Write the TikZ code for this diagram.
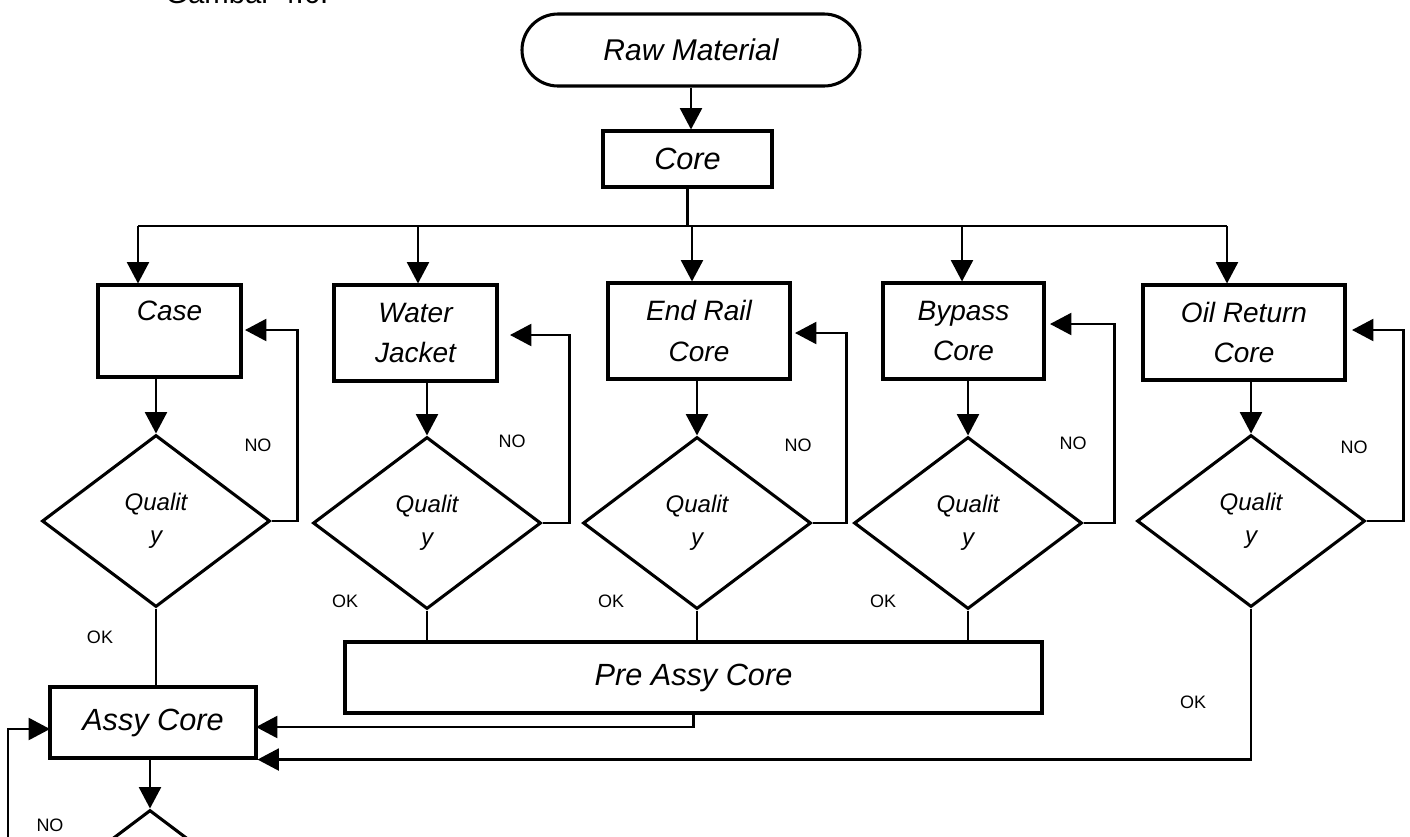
\documentclass[tikz,border=0pt]{standalone}
\usepackage{fontspec}
\setmainfont{Liberation Sans}
\usetikzlibrary{arrows.meta,shapes.geometric,shapes.misc}

\begin{document}
\begin{tikzpicture}[x=0.75pt,y=-0.75pt,
  sz/.style 2 args={minimum width=#1*0.75pt,minimum height=#2*0.75pt},
  box/.style={draw,rectangle,line width=2.3pt,inner sep=0pt,align=center,
              font=\itshape\fontsize{21}{30.5}\selectfont},
  bigbox/.style={box,font=\itshape\fontsize{23}{28}\selectfont},
  dec/.style={draw,diamond,line width=2.3pt,inner sep=0pt,align=center,
              minimum width=171pt,minimum height=129pt,
              font=\itshape\fontsize{18}{24.75}\selectfont},
  conn/.style={line width=1.6pt},
  arr/.style={conn,-{Triangle[length=16pt,width=16.5pt]}},
  lab/.style={inner sep=0pt,font=\fontsize{13.5}{16}\selectfont},
]
\useasboundingbox (0,0) rectangle (1410,836);
\clip (0,0) rectangle (1410,836);

% caption line above the chart
\node[anchor=base west,inner sep=0pt,font=\fontsize{22}{26}\selectfont] (caption) at (165,3) {Gambar 4.6.};

% start and core
\node[draw,rounded rectangle,line width=2.3pt,inner sep=0pt,sz={338}{72},
      font=\itshape\fontsize{22.5}{27}\selectfont] (raw) at (691,50) {Raw Material};
\node[bigbox,sz={169}{56}] (core) at (687.5,159) {Core};

% component boxes
\node[box,sz={143}{92}] (case) at (169.5,331) {Case\\\phantom{C}};
\node[box,sz={163}{96}] (wj)   at (415.5,333) {Water\\Jacket};
\node[box,sz={182}{96}] (erc)  at (699,331)   {End Rail\\Core};
\node[box,sz={161}{96}] (bpc)  at (963.5,331) {Bypass\\Core};
\node[box,sz={202}{95}] (orc)  at (1244,332.5) {Oil Return\\Core};

% quality checks
\node[dec] (d1) at (156,521)  {Qualit\\y};
\node[dec] (d2) at (427,523)  {Qualit\\y};
\node[dec] (d3) at (697,523)  {Qualit\\y};
\node[dec] (d4) at (968,523)  {Qualit\\y};
\node[dec] (d5) at (1251,521) {Qualit\\y};

% assembly
\node[bigbox,sz={697}{71}] (pre)  at (693.5,677.5) {Pre Assy Core};
\node[bigbox,sz={206}{71}] (assy) at (153,722.5)   {Assy Core};
\node[dec] (d6) at (150,896) {};

% distribution bus from Core
\coordinate (b1) at (138,226);
\coordinate (b2) at (418,226);
\coordinate (b3) at (692,226);
\coordinate (b4) at (962,226);
\coordinate (b5) at (1227,226);
\draw[arr] (raw.south) -- (raw.south |- core.north);
\draw[conn] (core.south) -- (core.south |- b1);
\draw[conn] (b1) -- (b5);
\draw[arr] (b1) -- (b1 |- case.north);
\draw[arr] (b2) -- (b2 |- wj.north);
\draw[arr] (b3) -- (b3 |- erc.north);
\draw[arr] (b4) -- (b4 |- bpc.north);
\draw[arr] (b5) -- (b5 |- orc.north);

% boxes into checks
\draw[arr] (d1.north |- case.south) -- (d1.north);
\draw[arr] (d2.north |- wj.south)   -- (d2.north);
\draw[arr] (d3.north |- erc.south)  -- (d3.north);
\draw[arr] (d4.north |- bpc.south)  -- (d4.north);
\draw[arr] (d5.north |- orc.south)  -- (d5.north);

% rework loops
\coordinate (n1) at (245,330);
\coordinate (n2) at (510,335);
\coordinate (n3) at (795,333);
\coordinate (n4) at (1050,324);
\coordinate (n5) at (1352,330);
\draw[arr] (d1.east) -- ++(26,0) |- (n1);
\draw[arr] (d2.east) -- ++(27,0) |- (n2);
\draw[arr] (d3.east) -- ++(34,0) |- (n3);
\draw[arr] (d4.east) -- ++(31,0) |- (n4);
\draw[arr] (d5.east) -- ++(37,0) |- (n5);

% accepted parts
\draw[conn] (d1.south) -- (d1.south |- assy.north);
\draw[conn] (d2.south) -- (d2.south |- pre.north);
\draw[conn] (d3.south) -- (d3.south |- pre.north);
\draw[conn] (d4.south) -- (d4.south |- pre.north);
\coordinate (ap) at (256,727);
\draw[arr] (pre.south) |- (ap);
\draw[arr] (d5.south) |- (assy.south east);

% final check and its loop
\draw[arr] (assy.south -| d6.north) -- (d6.north);
\coordinate (lp) at (8,860);
\coordinate (la) at (50,729);
\draw[arr] (lp) |- (la);

% labels
\node[lab] (no1) at (258,445)  {NO};
\node[lab] (no2) at (512,441)  {NO};
\node[lab] (no3) at (798,445)  {NO};
\node[lab] (no4) at (1073,443) {NO};
\node[lab] (no5) at (1354,447) {NO};
\node[lab] (no6) at (50,825)   {NO};
\node[lab] (ok1) at (100,637)  {OK};
\node[lab] (ok2) at (345,601)  {OK};
\node[lab] (ok3) at (611,601)  {OK};
\node[lab] (ok4) at (883,601)  {OK};
\node[lab] (ok5) at (1193,702) {OK};
\end{tikzpicture}
\end{document}
